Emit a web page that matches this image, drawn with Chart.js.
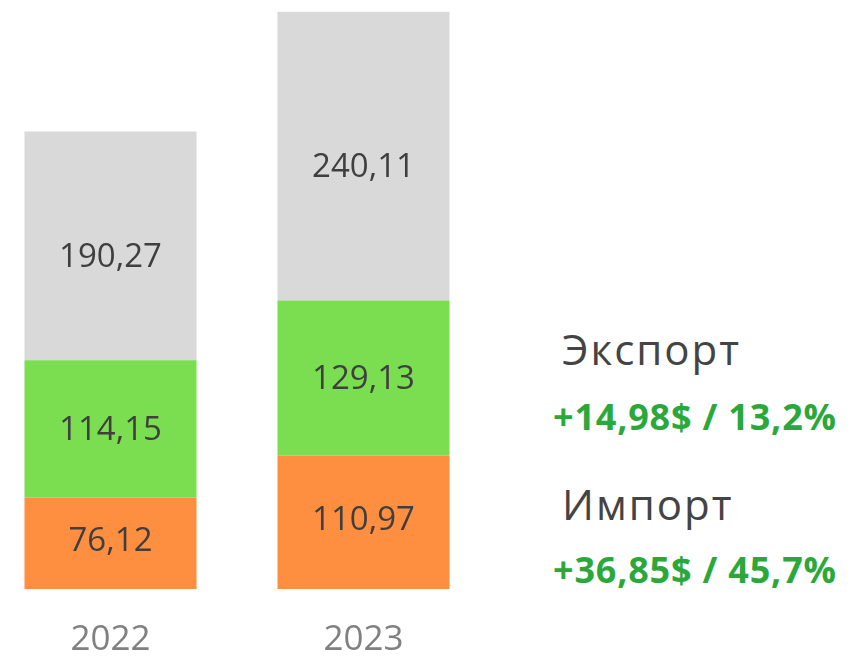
<!DOCTYPE html>
<html>
<head>
<meta charset="utf-8">
<script src="https://cdn.jsdelivr.net/npm/chart.js@4"></script>
<style>
  html, body { margin: 0; padding: 0; background: #fff; overflow: hidden; }
  body { width: 863px; height: 658px; position: relative; font-family: "Open Sans", sans-serif; }
  #chart-wrap { position: absolute; left: -16px; top: 0; width: 506px; height: 691px; }
  .side { position: absolute; left: 553px; white-space: nowrap; }
  .title { color: #444; font-size: 42px; font-weight: 400; left: 562px; letter-spacing: 2px; }
  .delta { color: #2ba83a; font-size: 36px; font-weight: 700; letter-spacing: 0.8px; }
</style>
</head>
<body>
<div id="chart-wrap"><canvas id="c"></canvas></div>
<div class="side title" style="top:320px">Экспорт</div>
<div class="side delta" style="top:392px">+14,98$ / 13,2%</div>
<div class="side title" style="top:475px">Импорт</div>
<div class="side delta" style="top:545px">+36,85$ / 45,7%</div>
<script>
// ─── Data ────────────────────────────────────────────────
const years = ['2022', '2023'];
const importVals = [76.12, 110.97];
const exportVals = [114.15, 129.13];
const totalVals = [190.27, 240.11];

// ─── Labels inside bars ──────────────────────────────────
const barLabels = {
  id: 'barLabels',
  afterDatasetsDraw(chart) {
    const ctx = chart.ctx;
    ctx.save();
    ctx.font = '33px "Open Sans", sans-serif';
    ctx.fillStyle = '#3f3f3f';
    ctx.textAlign = 'center';
    ctx.textBaseline = 'middle';
    chart.data.datasets.forEach((ds, i) => {
      chart.getDatasetMeta(i).data.forEach((bar, j) => {
        const y = (bar.y + bar.base) / 2 + (ds.labelShift || 0);
        ctx.fillText(ds.data[j].toFixed(2).replace('.', ','), bar.x, y);
      });
    });
    ctx.restore();
  }
};

new Chart(document.getElementById('c'), {
  type: 'bar',
  data: {
    labels: years,
    datasets: [
      { label: 'Импорт', data: importVals, backgroundColor: '#ff8f40', labelShift: -2 },
      { label: 'Экспорт', data: exportVals, backgroundColor: '#7ade50', labelShift: 2 },
      { label: 'Итого', data: totalVals, backgroundColor: '#d9d9d9', labelShift: 12 }
    ]
  },
  options: {
    responsive: true,
    maintainAspectRatio: false,
    animation: false,
    layout: { padding: 0 },
    datasets: { bar: { barPercentage: 0.68, categoryPercentage: 1 } },
    plugins: { legend: { display: false }, tooltip: { enabled: false } },
    scales: {
      x: {
        stacked: true,
        grid: { display: false, drawTicks: false },
        border: { display: false },
        ticks: { color: '#808080', font: { family: 'Open Sans', size: 35 }, padding: 30 }
      },
      y: {
        stacked: true,
        display: false,
        min: 0,
        max: 490
      }
    }
  },
  plugins: [barLabels]
});
</script>
</body>
</html>
